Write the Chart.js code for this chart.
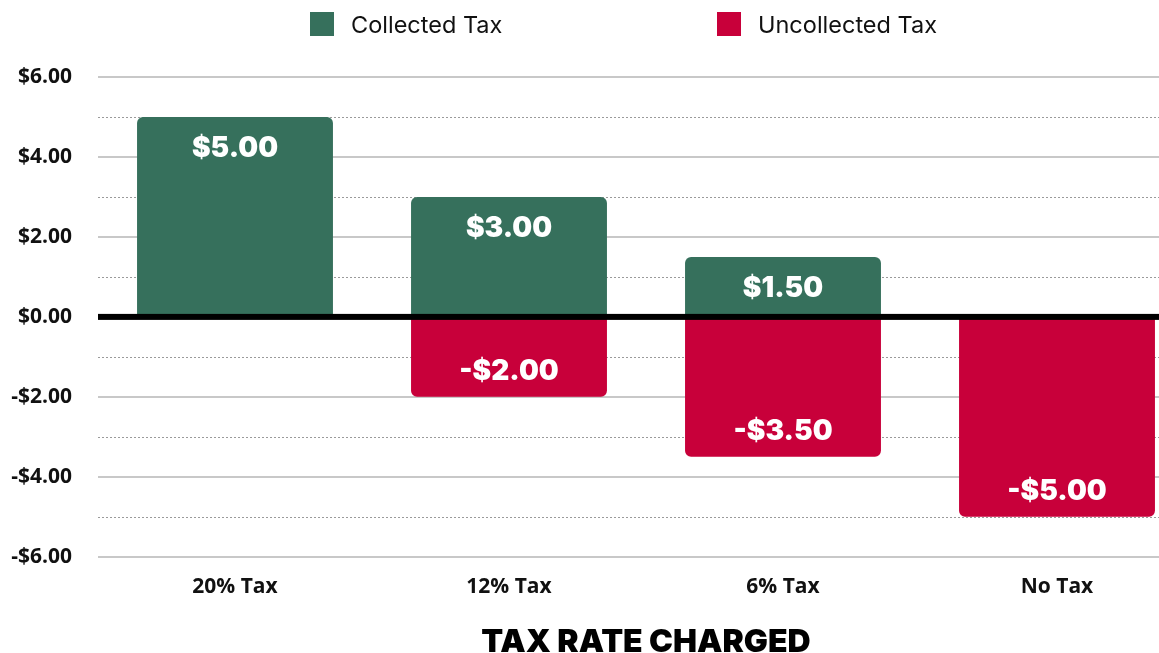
<!DOCTYPE html>
<html>
<head>
<meta charset="utf-8">
<script src="https://cdn.jsdelivr.net/npm/chart.js@4.4.1/dist/chart.umd.min.js"></script>
<style>
  html, body { margin: 0; padding: 0; background: #fff; overflow: hidden; }
  #wrap { position: relative; width: 1250px; height: 658px; }
  #legend { position: absolute; top: 10px; left: 0; width: 1250px; height: 30px; font-family: Inter, "Noto Sans", sans-serif; font-size: 23.5px; color: #111; }
  .item { position: absolute; top: 0; display: flex; align-items: center; height: 28px; }
  .box { width: 24px; height: 24px; margin-right: 17px; }
</style>
</head>
<body>
<div id="wrap">
  <div id="legend"></div>
  <canvas id="taxChart" width="1250" height="658"></canvas>
</div>
<script>
// 資料
const categories = ['20% Tax', '12% Tax', '6% Tax', 'No Tax'];
const collectedTax = [5, 3, 1.5, 0];
const uncollectedTax = [0, -2, -3.5, -5];
const seriesNames = ['Collected Tax', 'Uncollected Tax'];
const seriesColors = ['#36705c', '#c8003a'];
const legendX = [310, 717];

function money(v) {
    const s = '$' + Math.abs(v).toFixed(2);
    return v < 0 ? '-' + s : s;
}

// HTML legend
const legendEl = document.getElementById('legend');
seriesNames.forEach((name, i) => {
    const item = document.createElement('div');
    item.className = 'item';
    item.style.left = legendX[i] + 'px';
    item.innerHTML = `<div class="box" style="background:${seriesColors[i]}"></div><span>${name}</span>`;
    legendEl.appendChild(item);
});

// 奇數值的虛線 + 零軸粗黑線
const gridPlugin = {
    id: 'customGrid',
    beforeDatasetsDraw(chart) {
        const { ctx, chartArea, scales } = chart;
        ctx.save();
        ctx.strokeStyle = '#9a9a9a';
        ctx.lineWidth = 1;
        ctx.setLineDash([2, 2]);
        [5, 3, 1, -1, -3, -5].forEach(v => {
            const y = Math.round(scales.y.getPixelForValue(v)) + 0.5;
            ctx.beginPath();
            ctx.moveTo(chartArea.left, y);
            ctx.lineTo(chartArea.right, y);
            ctx.stroke();
        });
        ctx.restore();
    },
    afterDatasetsDraw(chart) {
        const { ctx, chartArea, scales } = chart;
        const y0 = scales.y.getPixelForValue(0);
        ctx.save();
        ctx.fillStyle = '#000';
        ctx.fillRect(chartArea.left, y0 - 3, chartArea.right - chartArea.left, 6);

        // 數值標籤
        ctx.fillStyle = '#fff';
        ctx.font = '900 28px Inter, "Noto Sans", sans-serif';
        ctx.textAlign = 'center';
        ctx.textBaseline = 'middle';
        chart.data.datasets.forEach((ds, di) => {
            const meta = chart.getDatasetMeta(di);
            meta.data.forEach((bar, i) => {
                const v = ds.data[i];
                if (!v) return;
                const y = v > 0 ? bar.y + 32 : bar.y - 25;
                ctx.fillText(money(v), bar.x, y);
            });
        });
        ctx.restore();
    }
};

const ctx = document.getElementById('taxChart').getContext('2d');
new Chart(ctx, {
    type: 'bar',
    data: {
        labels: categories,
        datasets: [
            { label: seriesNames[0], data: collectedTax, backgroundColor: seriesColors[0], borderRadius: 6, borderSkipped: 'start' },
            { label: seriesNames[1], data: uncollectedTax, backgroundColor: seriesColors[1], borderRadius: 6, borderSkipped: 'start' }
        ]
    },
    options: {
        responsive: false,
        animation: false,
        layout: { padding: { top: 77, right: 56, left: 10, bottom: 0 } },
        plugins: {
            legend: { display: false },
            tooltip: { enabled: false }
        },
        datasets: { bar: { categoryPercentage: 1, barPercentage: 0.715 } },
        scales: {
            x: {
                stacked: true,
                grid: { display: false, drawTicks: false },
                border: { display: false },
                ticks: {
                    color: '#111',
                    padding: 18,
                    font: { family: '"Open Sans", "Noto Sans", sans-serif', size: 21, weight: 'bold' }
                },
                title: {
                    display: true,
                    text: 'TAX RATE CHARGED',
                    color: '#000',
                    padding: { top: 8, bottom: 0 },
                    font: { family: 'Inter, "Noto Sans", sans-serif', size: 32, weight: 900, lineHeight: 1 }
                }
            },
            y: {
                stacked: true,
                min: -6,
                max: 6,
                afterFit: scale => { scale.width = 88; },
                grid: {
                    drawTicks: false,
                    color: c => (Math.abs(c.tick.value) % 2 === 0 ? '#c8c8c8' : 'rgba(0,0,0,0)'),
                    lineWidth: 2
                },
                border: { display: false },
                ticks: {
                    stepSize: 1,
                    padding: 26,
                    color: '#111',
                    font: { family: '"Open Sans", "Noto Sans", sans-serif', size: 21, weight: 'bold' },
                    callback: v => (Math.abs(v) % 2 === 0 ? money(v) : '')
                }
            }
        }
    },
    plugins: [gridPlugin]
});
</script>
</body>
</html>
